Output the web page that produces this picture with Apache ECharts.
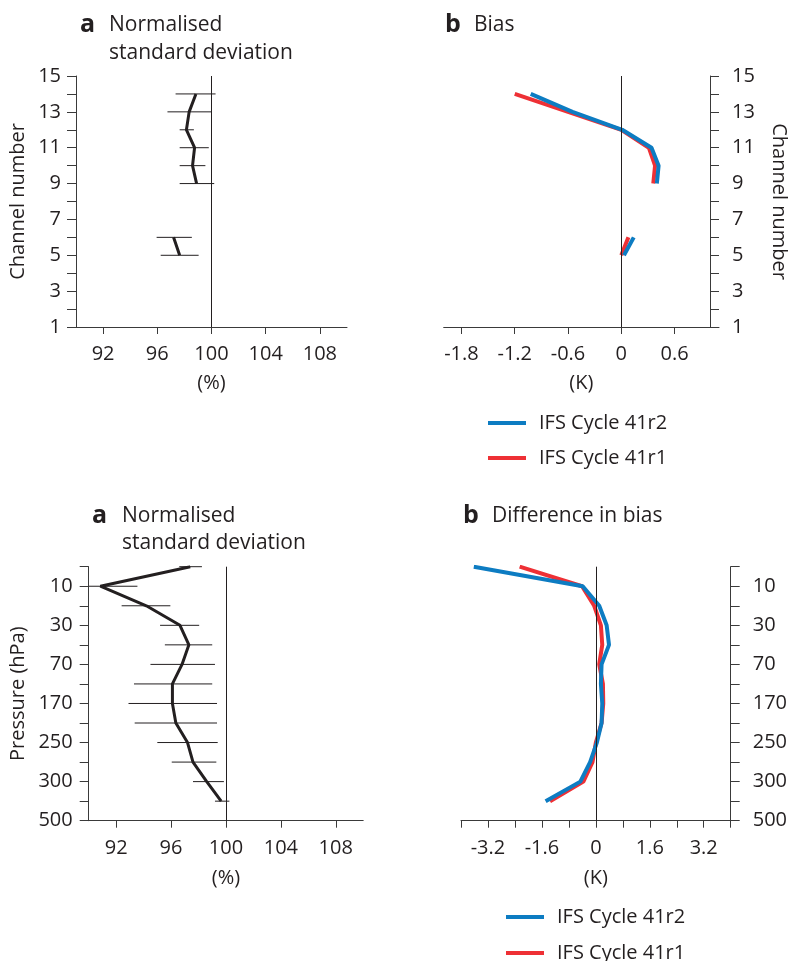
<!DOCTYPE html>
<html>
<head>
<meta charset="utf-8">
<script src="https://cdn.jsdelivr.net/npm/echarts@6/dist/echarts.min.js"></script>
<style>
html,body{margin:0;padding:0;background:#fff;}
#chart{width:790px;height:961px;}
</style>
</head>
<body>
<div id="chart"></div>
<script>
// ---------- data ----------
const channels = [5, 6, 7, 8, 9, 10, 11, 12, 13, 14];
const nsdChannel = [97.65, 97.2, null, null, 98.9, 98.6, 98.75, 98.15, 98.35, 98.85];
const nsdChannelLow = [96.25, 95.95, null, null, 97.65, 97.65, 97.65, 97.65, 96.75, 97.35];
const nsdChannelHigh = [99.05, 98.55, null, null, 100.2, 99.55, 99.8, 98.7, 100.0, 100.3];
const biasR2 = [0.03, 0.14, null, null, 0.40, 0.42, 0.34, 0.01, -0.55, -1.02];
const biasR1 = [0.0, 0.08, null, null, 0.36, 0.38, 0.31, 0.0, -0.6, -1.2];

const pressureIndex = [0, 1, 2, 3, 4, 5, 6, 7, 8, 9, 10, 11, 12];
const pressureLabels = ['', '10', '', '30', '', '70', '', '170', '', '250', '', '300', '', '500'];
const nsdPressure = [97.4, 90.85, 94.2, 96.65, 97.3, 96.8, 96.1, 96.1, 96.35, 97.2, 97.6, 98.6, 99.65];
const nsdPressureLow = [96.6, 90.0, 92.4, 95.2, 95.55, 94.5, 93.3, 92.9, 93.35, 95.0, 96.05, 97.6, 99.2];
const nsdPressureHigh = [98.25, 93.55, 95.95, 98.05, 99.0, 99.2, 99.0, 99.35, 99.35, 99.4, 99.3, 99.85, 100.25];
const diffR2 = [-3.62, -0.39, 0.10, 0.32, 0.39, 0.17, 0.15, 0.19, 0.17, 0.03, -0.17, -0.46, -1.49];
const diffR1 = [-2.26, -0.41, -0.05, 0.15, 0.19, 0.10, 0.21, 0.22, 0.17, 0.0, -0.10, -0.37, -1.36];

const channelTickLabels = [1, 3, 5, 7, 9, 11, 13, 15];
const pctTickLabels = [92, 96, 100, 104, 108];
const biasTickLabels = [-1.8, -1.2, -0.6, 0, 0.6];
const diffTicks = [-4, -3.2, -2.4, -1.6, -0.8, 0, 0.8, 1.6, 2.4, 3.2, 4];
const diffTickLabels = [-3.2, -1.6, 0, 1.6, 3.2];
const pressureLabelIdx = [1, 3, 5, 7, 9, 11, 13];

const nameR2 = 'IFS Cycle 41r2';
const nameR1 = 'IFS Cycle 41r1';

// ---------- style ----------
const FONT = '"Open Sans", "Noto Sans", sans-serif';
const TXT = '#231f20';
const AXC = '#3a3a3a';
const BLUE = '#0d7cc2';
const RED = '#ee3035';

function pairs(xs, ys) {
  return xs.map((x, i) => [x == null ? '-' : x, ys[i]]);
}
function bars(lo, hi, ys) {
  const out = [];
  ys.forEach((y, i) => { if (lo[i] != null) out.push([lo[i], hi[i], y]); });
  return out;
}
function errRender(params, api) {
  const p1 = api.coord([api.value(0), api.value(2)]);
  const p2 = api.coord([api.value(1), api.value(2)]);
  return { type: 'line', shape: { x1: p1[0], y1: p1[1], x2: p2[0], y2: p2[1] },
    style: { stroke: TXT, lineWidth: 1 } };
}
function zeroLine(v) {
  return { silent: true, symbol: 'none', label: { show: false },
    lineStyle: { color: TXT, width: 1, type: 'solid' }, data: [{ xAxis: v }] };
}
const lbl = { color: TXT, fontSize: 20, fontFamily: FONT };
const axLine = { show: true, lineStyle: { color: AXC, width: 1 } };

function xAx(gi, min, max, ticks, labels, name, margin, gap) {
  return {
    type: 'value', gridIndex: gi, min: min, max: max,
    axisLine: Object.assign({ onZero: false }, axLine),
    axisTick: { show: true, length: 7, lineStyle: { color: AXC }, customValues: ticks },
    axisLabel: Object.assign({ margin: margin, customValues: labels }, lbl),
    splitLine: { show: false },
    name: name, nameLocation: 'middle', nameGap: gap,
    nameTextStyle: Object.assign({}, lbl)
  };
}
function legendItem(name, left, top) {
  return { left: left, top: top, orient: 'vertical', padding: 0, itemGap: 0, itemWidth: 38, itemHeight: 4,
    icon: 'rect', data: [name], selectedMode: false,
    textStyle: Object.assign({ padding: [0, 0, 0, 8], lineHeight: 18 }, lbl) };
}

const chart = echarts.init(document.getElementById('chart'), null, { renderer: 'canvas' });

function title(x, y, t, bold) {
  return { type: 'text', x: x, y: y, style: { text: t, fill: TXT,
    font: (bold ? 'bold 25px ' : '21px ') + FONT, verticalAlign: 'middle', align: 'left' } };
}

const option = {
  animation: false,
  backgroundColor: '#fff',
  graphic: [
    title(80, 25, 'a', true), title(109, 25, 'Normalised'), title(109, 53, 'standard deviation'),
    title(445, 25, 'b', true), title(474, 25, 'Bias'),
    title(92, 516, 'a', true), title(122, 516, 'Normalised'), title(122, 543, 'standard deviation'),
    title(463, 516, 'b', true), title(492, 516, 'Difference in bias')
  ],
  legend: [
    legendItem(nameR2, 488, 413),
    legendItem(nameR1, 488, 448),
    legendItem(nameR2, 506, 907),
    legendItem(nameR1, 506, 943)
  ],
  grid: [
    { left: 76, top: 76, width: 271, height: 251 },
    { left: 443.7, top: 76, width: 279.6, height: 251 },
    { left: 88.7, top: 566.7, width: 274.5, height: 254 },
    { left: 461, top: 566.7, width: 274.3, height: 254 }
  ],
  xAxis: [
    xAx(0, 90, 110, pctTickLabels, pctTickLabels, '(%)', 17, 46),
    xAx(1, -2, 1.1, biasTickLabels, biasTickLabels, '(K)', 17, 46),
    xAx(2, 90, 110, pctTickLabels, pctTickLabels, '(%)', 18, 48),
    xAx(3, -4, 4, diffTicks, diffTickLabels, '(K)', 18, 48)
  ],
  yAxis: [
    { type: 'value', gridIndex: 0, min: 1, max: 15, interval: 1, position: 'left',
      axisLine: Object.assign({ onZero: false }, axLine),
      axisTick: { show: true, length: 9, lineStyle: { color: AXC } },
      axisLabel: Object.assign({ margin: 15, customValues: channelTickLabels }, lbl),
      splitLine: { show: false },
      name: 'Channel number', nameLocation: 'middle', nameGap: 48, nameTextStyle: Object.assign({}, lbl) },
    { type: 'value', gridIndex: 1, min: 1, max: 15, interval: 1, position: 'right', offset: -9,
      axisLine: Object.assign({ onZero: false }, axLine),
      axisTick: { show: true, length: 9, lineStyle: { color: AXC } },
      axisLabel: Object.assign({ margin: 22, customValues: channelTickLabels }, lbl),
      splitLine: { show: false },
      name: 'Channel number', nameLocation: 'middle', nameGap: 59, nameRotate: -90,
      nameTextStyle: Object.assign({}, lbl) },
    { type: 'value', gridIndex: 2, min: 0, max: 13, interval: 1, inverse: true, position: 'left',
      axisLine: Object.assign({ onZero: false }, axLine),
      axisTick: { show: true, length: 9, lineStyle: { color: AXC } },
      axisLabel: Object.assign({ margin: 16, customValues: pressureLabelIdx,
        formatter: v => pressureLabels[Math.round(v)] }, lbl),
      splitLine: { show: false },
      name: 'Pressure (hPa)', nameLocation: 'middle', nameGap: 60, nameTextStyle: Object.assign({}, lbl) },
    { type: 'value', gridIndex: 3, min: 0, max: 13, interval: 1, inverse: true, position: 'right',
      axisLine: Object.assign({ onZero: false }, axLine),
      axisTick: { show: true, length: 9, lineStyle: { color: AXC } },
      axisLabel: Object.assign({ margin: 22, customValues: pressureLabelIdx,
        formatter: v => pressureLabels[Math.round(v)] }, lbl),
      splitLine: { show: false } }
  ],
  series: [
    // top-left
    { type: 'custom', xAxisIndex: 0, yAxisIndex: 0, renderItem: errRender,
      encode: { x: [0, 1], y: 2 }, data: bars(nsdChannelLow, nsdChannelHigh, channels), z: 2 },
    { type: 'line', xAxisIndex: 0, yAxisIndex: 0, symbol: 'none', connectNulls: false,
      lineStyle: { color: TXT, width: 3 }, data: pairs(nsdChannel, channels), z: 3,
      markLine: zeroLine(100) },
    // top-right
    { type: 'line', name: nameR1, xAxisIndex: 1, yAxisIndex: 1, symbol: 'none', connectNulls: false,
      color: RED, itemStyle: { color: RED }, lineStyle: { color: RED, width: 4 },
      data: pairs(biasR1, channels), z: 3, markLine: zeroLine(0) },
    { type: 'line', name: nameR2, xAxisIndex: 1, yAxisIndex: 1, symbol: 'none', connectNulls: false,
      color: BLUE, itemStyle: { color: BLUE }, lineStyle: { color: BLUE, width: 4 },
      data: pairs(biasR2, channels), z: 4 },
    // bottom-left
    { type: 'custom', xAxisIndex: 2, yAxisIndex: 2, renderItem: errRender,
      encode: { x: [0, 1], y: 2 }, data: bars(nsdPressureLow, nsdPressureHigh, pressureIndex), z: 2 },
    { type: 'line', xAxisIndex: 2, yAxisIndex: 2, symbol: 'none',
      lineStyle: { color: TXT, width: 3 }, data: pairs(nsdPressure, pressureIndex), z: 3,
      markLine: zeroLine(100) },
    // bottom-right
    { type: 'line', name: nameR1, xAxisIndex: 3, yAxisIndex: 3, symbol: 'none',
      color: RED, itemStyle: { color: RED }, lineStyle: { color: RED, width: 4 },
      data: pairs(diffR1, pressureIndex), z: 3, markLine: zeroLine(0) },
    { type: 'line', name: nameR2, xAxisIndex: 3, yAxisIndex: 3, symbol: 'none',
      color: BLUE, itemStyle: { color: BLUE }, lineStyle: { color: BLUE, width: 4 },
      data: pairs(diffR2, pressureIndex), z: 4 }
  ]
};
chart.setOption(option);
</script>
</body>
</html>
